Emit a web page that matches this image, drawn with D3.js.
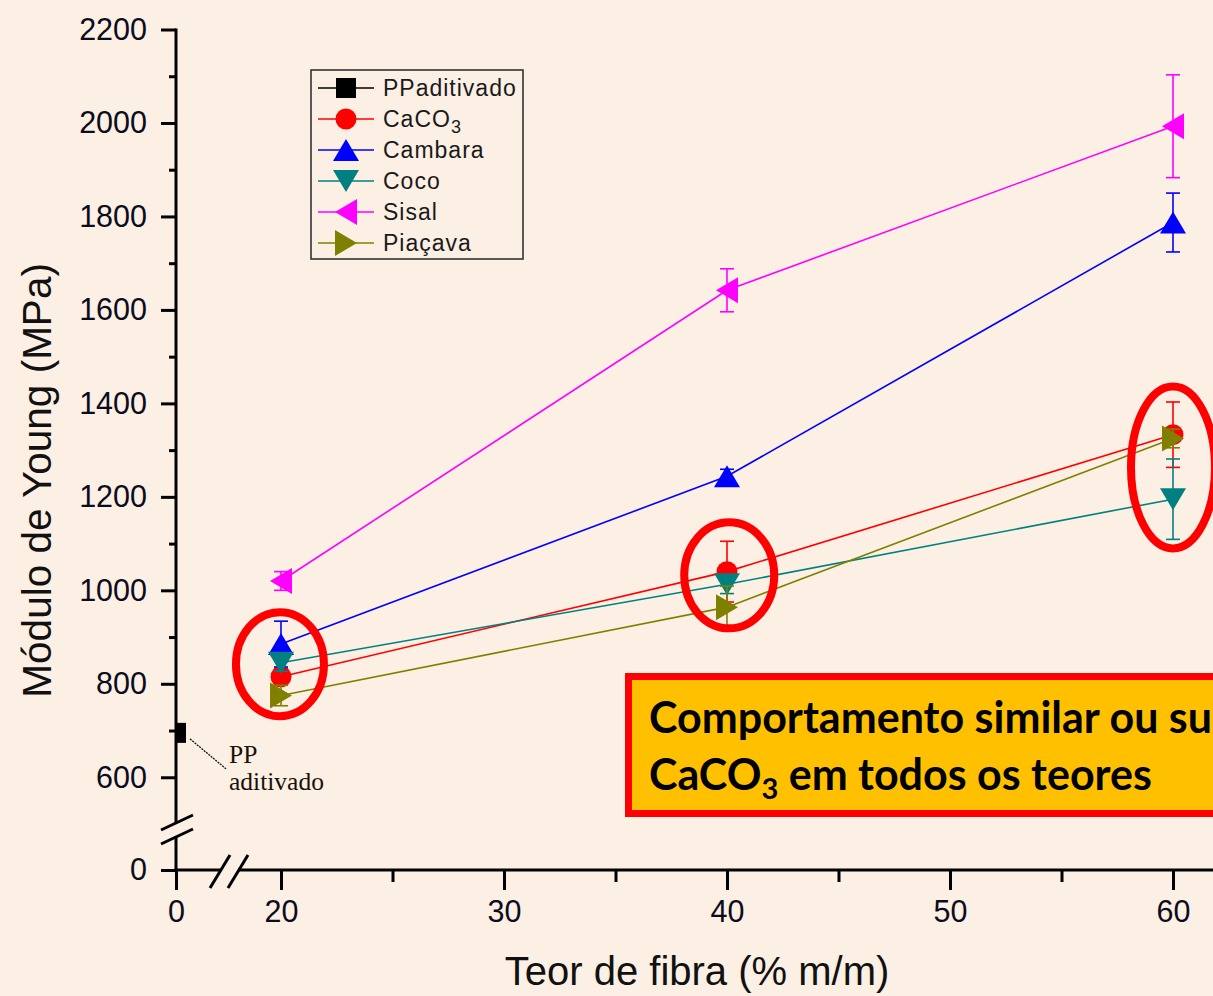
<!DOCTYPE html>
<html>
<head>
<meta charset="utf-8">
<script src="https://cdn.jsdelivr.net/npm/d3@7"></script>
<style>
  html, body { margin: 0; padding: 0; background: #fcefe4; overflow: hidden; }
  svg { display: block; }
</style>
</head>
<body>
<svg id="chart" width="1213" height="996"></svg>
<script>
// Fibre content (% m/m) for the composite series
const fiberContent = [20, 40, 60];

// Neat additivated PP (no fibre)
const ppContent = [0];
const ppValues = [695];
const ppErrors = [8];

// Young's modulus (MPa) and standard deviations per filler
const caco3Values = [815, 1040, 1333];
const caco3Errors = [18, 65, 70];
const cambaraValues = [885, 1244, 1787];
const cambaraErrors = [49, 15, 63];
const cocoValues = [845, 1013, 1195];
const cocoErrors = [18, 20, 86];
const sisalValues = [1020, 1642, 1993];
const sisalErrors = [20, 46, 110];
const piacavaValues = [775, 964, 1325];
const piacavaErrors = [22, 45, 20];

const seriesNames = ["PPaditivado", "CaCO3", "Cambara", "Coco", "Sisal", "Piaçava"];

// Axis ticks
const yMajorTicks = [0, 600, 800, 1000, 1200, 1400, 1600, 1800, 2000, 2200];
const yMinorTicks = [700, 900, 1100, 1300, 1500, 1700, 1900, 2100];
const xMajorTicks = [0, 20, 30, 40, 50, 60];
const xMinorTicks = [25, 35, 45, 55];

// Highlighted groups (centre in data units)
const highlightX = [19.8, 40.1, 60];
const highlightY = [842, 1032, 1263];

const svg = d3.select("#chart");
const W = 1213, H = 996;

svg.append("rect").attr("width", W).attr("height", H).attr("fill", "#fcefe4");

// Broken axes: x jumps from 0 to 20, y jumps from 0 to ~500
const x = d3.scaleLinear().domain([0, 20, 60]).range([176, 281, 1173]);
const y = d3.scaleLinear().domain([0, 500, 2200]).range([870, 824, 29.5]);

const x0 = x(0), y0 = y(0);
const tickColor = "#0c0c1c";
const sans = "'Liberation Sans', Arial, sans-serif";

// Clip data to the axes frame
svg.append("defs").append("clipPath").attr("id", "plotClip")
  .append("rect").attr("x", x0).attr("y", 0).attr("width", W - x0).attr("height", y0);

// ---- Y axis ----
const gy = svg.append("g").attr("transform", `translate(${x0},0)`);
gy.call(d3.axisLeft(y).tickValues(yMajorTicks).tickSize(15).tickPadding(14).tickFormat(d3.format("d")));
gy.select(".domain").remove();
gy.selectAll(".tick line").attr("stroke", "#000").attr("stroke-width", 3);
gy.selectAll(".tick text").attr("fill", tickColor).style("font-family", sans).style("font-size", "30.5px");

const gyMinor = svg.append("g").attr("transform", `translate(${x0},0)`);
gyMinor.call(d3.axisLeft(y).tickValues(yMinorTicks).tickSize(7).tickFormat(""));
gyMinor.select(".domain").remove();
gyMinor.selectAll(".tick line").attr("stroke", "#000").attr("stroke-width", 3);

// ---- X axis ----
const gx = svg.append("g").attr("transform", `translate(0,${y0})`);
gx.call(d3.axisBottom(x).tickValues(xMajorTicks).tickSize(20).tickPadding(10).tickFormat(d3.format("d")));
gx.select(".domain").remove();
gx.selectAll(".tick line").attr("stroke", "#000").attr("stroke-width", 3);
gx.selectAll(".tick text").attr("fill", tickColor).style("font-family", sans).style("font-size", "30.5px");

const gxMinor = svg.append("g").attr("transform", `translate(0,${y0})`);
gxMinor.call(d3.axisBottom(x).tickValues(xMinorTicks).tickSize(12).tickFormat(""));
gxMinor.select(".domain").remove();
gxMinor.selectAll(".tick line").attr("stroke", "#000").attr("stroke-width", 3);

// Axis lines with break gaps
const axisG = svg.append("g").attr("stroke", "#000").attr("stroke-width", 3).attr("fill", "none");
const yBreakTop = y0 - 47, yBreakBottom = y0 - 33;
axisG.append("line").attr("x1", x0).attr("x2", x0).attr("y1", y(2200) - 1).attr("y2", yBreakTop);
axisG.append("line").attr("x1", x0).attr("x2", x0).attr("y1", yBreakBottom).attr("y2", y0);
const xBreakLeft = x0 + 44, xBreakRight = x0 + 62;
axisG.append("line").attr("x1", x0 - 1.5).attr("x2", xBreakLeft).attr("y1", y0).attr("y2", y0);
axisG.append("line").attr("x1", xBreakRight).attr("x2", W).attr("y1", y0).attr("y2", y0);

// Break slashes
[yBreakTop, yBreakBottom].forEach(yy => {
  axisG.append("line").attr("x1", x0 - 15).attr("y1", yy + 7).attr("x2", x0 + 17).attr("y2", yy - 8);
});
[xBreakLeft, xBreakRight].forEach(xx => {
  axisG.append("line").attr("x1", xx - 10).attr("y1", y0 + 18).attr("x2", xx + 10).attr("y2", y0 - 15);
});

// ---- Axis titles ----
svg.append("text")
  .attr("transform", `translate(51,${(y(600) + y(2200)) / 2 + 77}) rotate(-90)`)
  .attr("text-anchor", "middle").attr("fill", "#111")
  .style("font-family", sans).style("font-size", "40.5px")
  .text("Módulo de Young (MPa)");

svg.append("text")
  .attr("x", 697).attr("y", 985)
  .attr("text-anchor", "middle").attr("fill", "#111")
  .style("font-family", sans).style("font-size", "40px")
  .text("Teor de fibra (% m/m)");

// ---- Markers ----
function markerPath(shape) {
  const s = 11, h = 13;
  switch (shape) {
    case "square": return "M-10,-10H10V10H-10Z";
    case "circle": return d3.arc()({innerRadius: 0, outerRadius: 10.5, startAngle: 0, endAngle: 2 * Math.PI});
    case "up": return `M0,${-s}L${h},${s}L${-h},${s}Z`;
    case "down": return `M0,${s}L${h},${-s}L${-h},${-s}Z`;
    case "left": return `M${-s},0L${s},${-h}L${s},${h}Z`;
    case "right": return `M${s},0L${-s},${-h}L${-s},${h}Z`;
  }
}

const series = [
  {name: seriesNames[0], xs: ppContent, vals: ppValues, errs: ppErrors, color: "#000000", shape: "square", connect: false},
  {name: seriesNames[1], xs: fiberContent, vals: caco3Values, errs: caco3Errors, color: "#ff0000", shape: "circle", connect: true},
  {name: seriesNames[2], xs: fiberContent, vals: cambaraValues, errs: cambaraErrors, color: "#0000ff", shape: "up", connect: true},
  {name: seriesNames[3], xs: fiberContent, vals: cocoValues, errs: cocoErrors, color: "#008080", shape: "down", connect: true},
  {name: seriesNames[4], xs: fiberContent, vals: sisalValues, errs: sisalErrors, color: "#ff00ff", shape: "left", connect: true},
  {name: seriesNames[5], xs: fiberContent, vals: piacavaValues, errs: piacavaErrors, color: "#808000", shape: "right", connect: true}
];

const plot = svg.append("g").attr("clip-path", "url(#plotClip)");
const line = d3.line().x(d => x(d[0])).y(d => y(d[1]));

series.forEach(s => {
  const pts = s.xs.map((xv, i) => [xv, s.vals[i], s.errs[i]]);
  const g = plot.append("g");
  if (s.connect) {
    g.append("path").datum(pts).attr("d", line)
      .attr("fill", "none").attr("stroke", s.color).attr("stroke-width", 1.6);
  }
  // error bars
  const eb = g.append("g").attr("stroke", s.color).attr("stroke-width", 1.6);
  pts.forEach(p => {
    const cx = x(p[0]), yt = y(p[1] + p[2]), yb = y(p[1] - p[2]);
    eb.append("line").attr("x1", cx).attr("x2", cx).attr("y1", yt).attr("y2", yb);
    eb.append("line").attr("x1", cx - 7).attr("x2", cx + 7).attr("y1", yt).attr("y2", yt);
    eb.append("line").attr("x1", cx - 7).attr("x2", cx + 7).attr("y1", yb).attr("y2", yb);
  });
  g.selectAll("path.mk").data(pts).join("path").attr("class", "mk")
    .attr("d", markerPath(s.shape))
    .attr("transform", d => `translate(${x(d[0])},${y(d[1])})`)
    .attr("fill", s.color);
});

// ---- PP label with leader line ----
svg.append("line")
  .attr("x1", x(ppContent[0]) + 14).attr("y1", y(ppValues[0]) + 6)
  .attr("x2", x(ppContent[0]) + 50).attr("y2", y(ppValues[0]) + 36)
  .attr("stroke", "#111").attr("stroke-width", 1.3).attr("stroke-dasharray", "2,1");
const ppLabel = svg.append("text").attr("fill", "#1a1208")
  .style("font-family", "'Liberation Serif', 'Times New Roman', serif").style("font-size", "25.5px");
ppLabel.append("tspan").attr("x", 229).attr("y", 763).text("PP");
ppLabel.append("tspan").attr("x", 229).attr("y", 790).text("aditivado");

// ---- Legend ----
const lg = svg.append("g").attr("transform", "translate(311,70)");
lg.append("rect").attr("x", 0).attr("y", 0).attr("width", 212).attr("height", 189)
  .attr("fill", "none").attr("stroke", "#333").attr("stroke-width", 1.6);
series.forEach((s, i) => {
  const cy = 18 + i * 31;
  lg.append("line").attr("x1", 7).attr("x2", 63).attr("y1", cy).attr("y2", cy)
    .attr("stroke", s.color).attr("stroke-width", 1.6);
  lg.append("path").attr("d", markerPath(s.shape)).attr("transform", `translate(35,${cy})`)
    .attr("fill", s.color);
  const t = lg.append("text").attr("x", 72).attr("y", cy + 8).attr("fill", "#1a1a1a")
    .style("font-family", sans).style("font-size", "23px").style("letter-spacing", "1px");
  if (s.name === "CaCO3") {
    t.append("tspan").text("CaCO");
    t.append("tspan").attr("dy", 6).style("font-size", "18px").text("3");
  } else {
    t.text(s.name);
  }
});

// ---- Highlight ellipses ----
const ellipseR = [[44, 52], [45, 53], [42, 81]];
highlightX.forEach((hx, i) => {
  svg.append("ellipse")
    .attr("cx", x(hx)).attr("cy", y(highlightY[i]))
    .attr("rx", ellipseR[i][0]).attr("ry", ellipseR[i][1])
    .attr("fill", "none").attr("stroke", "#ff0000").attr("stroke-width", 8);
});

// ---- Annotation box ----
svg.append("rect").attr("x", 628.5).attr("y", 676.5).attr("width", 700).attr("height", 137)
  .attr("fill", "#ffc000").attr("stroke", "#ff0000").attr("stroke-width", 7);
const note = svg.append("text").attr("fill", "#000")
  .style("font-family", "Lato, 'Open Sans', sans-serif").style("font-weight", "bold").style("font-size", "43px");
note.append("tspan").attr("x", 649).attr("y", 733)
  .text("Comportamento similar ou superior ao");
note.append("tspan").attr("x", 649).attr("y", 790).text("CaCO");
note.append("tspan").attr("dy", 9).style("font-size", "29px").text("3");
note.append("tspan").attr("dy", -9).text(" em todos os teores");
</script>
</body>
</html>
